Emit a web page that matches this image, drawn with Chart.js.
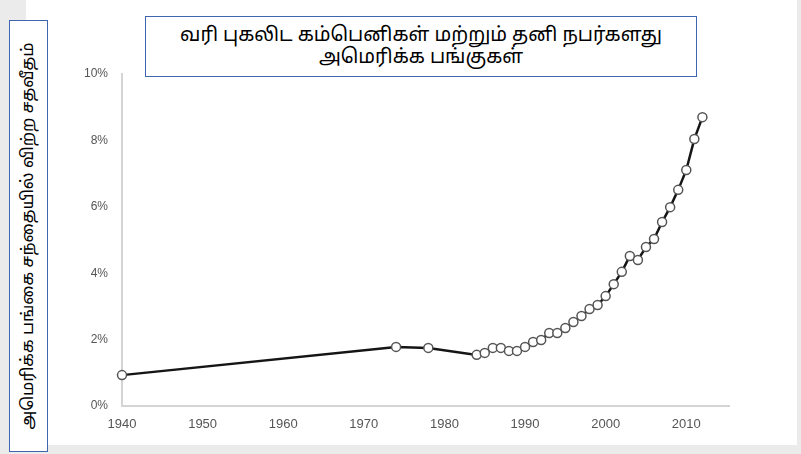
<!DOCTYPE html>
<html>
<head>
<meta charset="utf-8">
<script src="https://cdn.jsdelivr.net/npm/chart.js@4.4.0/dist/chart.umd.min.js"></script>
<style>
  html, body { margin: 0; padding: 0; }
  body { width: 801px; height: 454px; background: #ebebeb; position: relative; overflow: hidden; font-family: "Noto Sans Tamil", "Noto Sans", "DejaVu Sans", sans-serif; }
  #panel { position: absolute; left: 26px; top: 0; width: 771px; height: 445px; background: #fff; }
  #titulo { position: absolute; left: 145px; top: 16px; width: 550px; height: 59px; border: 1px solid #3f64b0; background: #fff;
            text-align: center; font-size: 19.5px; line-height: 22px; color: #000; display: flex; flex-direction: column; justify-content: center; }
  #ejeY { position: absolute; left: 9px; top: 20px; width: 37px; height: 430px; border: 1px solid #3f64b0; background: #fff; }
  #ejeY span { position: absolute; left: 50%; top: 50%; transform: translate(-50%, -50%) rotate(-90deg); white-space: nowrap; font-size: 16.6px; color: #000; }
</style>
</head>
<body>
<div id="panel"><canvas id="grafico" width="771" height="445"></canvas></div>
<div id="titulo"><div>வரி புகலிட கம்பெனிகள் மற்றும் தனி நபர்களது</div><div>அமெரிக்க பங்குகள்</div></div>
<div id="ejeY"><span>அமெரிக்க பங்கை சந்தையில் விற்ற சதவீதம்</span></div>
<script>
// años de cada punto
const anios = [1940, 1974, 1978, 1984, 1985, 1986, 1987, 1988, 1989, 1990, 1991, 1992, 1993, 1994, 1995,
  1996, 1997, 1998, 1999, 2000, 2001, 2002, 2003, 2004, 2005, 2006, 2007, 2008, 2009, 2010, 2011, 2012];
// porcentaje
const porcentajes = [0.93, 1.78, 1.75, 1.54, 1.60, 1.75, 1.75, 1.66, 1.66, 1.78, 1.93, 1.99, 2.20, 2.20, 2.35,
  2.53, 2.71, 2.92, 3.04, 3.31, 3.67, 4.04, 4.52, 4.40, 4.79, 5.03, 5.54, 5.99, 6.51, 7.11, 8.04, 8.70];
// etiquetas de los ejes
const ticksX = [1940, 1950, 1960, 1970, 1980, 1990, 2000, 2010];
const ticksY = [0, 2, 4, 6, 8, 10];

const puntos = anios.map((a, i) => ({ x: a, y: porcentajes[i] }));

const ctx = document.getElementById('grafico').getContext('2d');
new Chart(ctx, {
  type: 'line',
  data: {
    datasets: [{
      data: puntos,
      borderColor: '#151515',
      borderWidth: 2.5,
      tension: 0,
      clip: false,
      pointRadius: 4.5,
      pointBackgroundColor: '#fff',
      pointBorderColor: '#555',
      pointBorderWidth: 1.5
    }]
  },
  options: {
    responsive: false,
    animation: false,
    layout: { padding: { left: 0, top: 74, right: 68, bottom: 0 } },
    plugins: { legend: { display: false }, tooltip: { enabled: false } },
    scales: {
      x: {
        type: 'linear',
        min: 1940,
        max: 2015.3,
        afterBuildTicks: s => { s.ticks = ticksX.map(v => ({ value: v })); },
        afterFit: s => { s.height = 39; },
        grid: { display: false, drawTicks: false },
        border: { display: true, color: '#d4d4d4', width: 2 },
        ticks: { padding: 11, color: '#555', font: { family: 'Liberation Sans', size: 13 }, callback: v => String(v) }
      },
      y: {
        min: 0,
        max: 10,
        afterBuildTicks: s => { s.ticks = ticksY.map(v => ({ value: v })); },
        afterFit: s => { s.width = 96; },
        grid: { display: false, drawTicks: false },
        border: { display: true, color: '#d4d4d4', width: 2 },
        ticks: { padding: 14, color: '#555', font: { family: 'Liberation Sans', size: 12 }, callback: v => v + '%' }
      }
    }
  }
});
</script>
</body>
</html>
